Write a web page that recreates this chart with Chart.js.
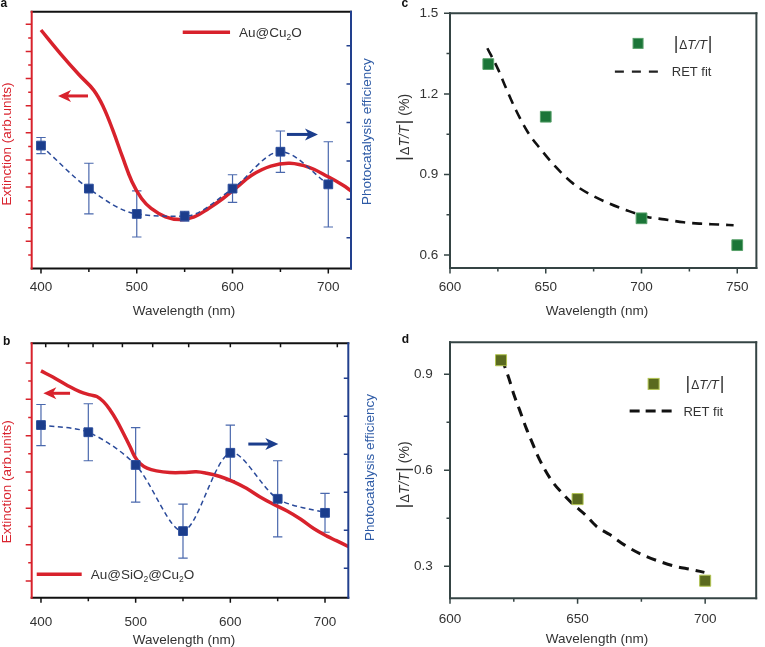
<!DOCTYPE html>
<html><head><meta charset="utf-8">
<script src="https://cdn.jsdelivr.net/npm/chart.js@4.4.1/dist/chart.umd.min.js"></script>
<style>
html,body{margin:0;padding:0;background:#fff;}
#wrap{position:relative;width:765px;height:647px;overflow:hidden;background:#fff;}
canvas{position:absolute;}
</style></head><body>
<div id="wrap">
<canvas id="ca" style="left:0;top:0;width:380px;height:325px" width="380" height="325"></canvas>
<canvas id="cc" style="left:380px;top:0;width:385px;height:325px" width="385" height="325"></canvas>
<canvas id="cb" style="left:0;top:325px;width:380px;height:322px" width="380" height="322"></canvas>
<canvas id="cd" style="left:380px;top:325px;width:385px;height:322px" width="385" height="322"></canvas>
</div>
<script>
// ---------------- data ----------------
const photoWavelengths = [400, 450, 500, 550, 600, 650, 700];

// panel a
const extWavelengthsA = [400,420,440,455,465,475,485,495,505,515,530,545,560,575,590,605,620,640,660,680,700,715,725];
const extinctionA     = [17.58,15.86,14.26,13.15,11.93,10.20,8.24,6.39,5.16,4.43,3.81,3.61,3.81,4.43,5.16,6.02,6.88,7.55,7.75,7.45,6.76,6.15,5.66];
const photoEffA = [3.40, 2.28, 1.62, 1.56, 2.28, 3.24, 2.39];
const photoErrA = [0.21, 0.66, 0.60, 0.13, 0.36, 0.54, 1.11];

// panel b
const extWavelengthsB = [400,413,427,441,452,459,466,473,480,487,494,499,505,512,522,536,550,564,575,589,603,617,631,645,660,674,688,702,712,725];
const extinctionB     = [12.56,12.21,11.79,11.42,11.24,11.15,10.87,10.41,9.83,9.13,8.40,7.85,7.45,7.21,7.06,6.97,6.97,7.01,6.93,6.75,6.47,6.10,5.64,5.24,4.85,4.41,3.89,3.47,3.22,2.89];
const photoEffB = [4.77, 4.58, 3.72, 1.98, 4.04, 2.83, 2.46];
const photoErrB = [0.54, 0.75, 0.98, 0.71, 0.73, 1.00, 0.51];

// panel c
const pointWlC = [620, 650, 700, 750];
const dTC      = [1.311, 1.115, 0.737, 0.637];
const fitWlC = [619.5,625.0,629.3,634.4,640.5,647.0,655.1,664.2,672.9,683.2,691.8,703.0,712.0,722.0,730.9,740.0,748.1];
const fitC   = [1.37,1.293,1.221,1.140,1.059,0.997,0.929,0.867,0.827,0.792,0.768,0.742,0.733,0.722,0.717,0.714,0.711];

// panel d
const pointWlD = [620, 650, 700];
const dTD      = [0.944, 0.510, 0.255];
const fitWlD = [620.3,623.1,625.1,627.3,629.9,632.1,634.4,636.9,640.1,644.6,648.5,653.0,657.4,662.6,668.3,675.4,681.8,688.2,694.6,699.7];
const fitD   = [0.949,0.887,0.835,0.788,0.731,0.689,0.645,0.606,0.565,0.523,0.492,0.461,0.425,0.399,0.367,0.336,0.316,0.300,0.290,0.281];

// ticks
const xTicksAB = [400, 500, 600, 700];
const xMinorAB = [450, 550, 650];
const topTicksB = [405, 429, 455, 486, 518, 556, 600, 653, 713];
const yLeftMajorA = [2,4,6,8,10,12,14,16,18];
const yLeftMinorA = [1,3,5,7,9,11,13,15,17];
const yLeftMajorB = [1,3,5,7,9,11,13];
const yLeftMinorB = [2,4,6,8,10,12];
const yRightTicks = [1,2,3,4,5,6];
const xTicksC = [600, 650, 700, 750];
const xMinorC = [625, 675, 725];
const yTicksC = [0.6, 0.9, 1.2, 1.5];
const yMinorC = [0.75, 1.05, 1.35];
const xTicksD = [600, 650, 700];
const xMinorD = [625, 675];
const yTicksD = [0.3, 0.6, 0.9];
const yMinorD = [0.45, 0.75];

// ---------------- style ----------------
const FONT = "'Liberation Sans', Arial, Helvetica, sans-serif";
Chart.defaults.font.family = FONT;
Chart.defaults.font.size = 13.5;
Chart.defaults.color = '#333';
Chart.defaults.animation = false;

const RED = '#d8222c', RED_TXT = '#d9232e';
const BLUE = '#1b3d8c', BLUE_LINE = '#2a4a9a', BLUE_TXT = '#2e5ba6', ERR = '#4a68ad';
const FRAME = '#354444';
const GREEN = '#1b7538', GREEN_EDGE = '#58a06a';
const OLIVE = '#5a6a1f', OLIVE_EDGE = '#b2c452';

const pts = (xs, ys) => xs.map((x, i) => ({x, y: ys[i]}));

function xScale(min, max, height, pad, majors) {
  return {type:'linear', position:'bottom', min, max,
    grid:{display:false, drawTicks:false}, border:{display:false},
    ticks:{display:true, padding:pad, maxRotation:0, autoSkip:false, color:'#333', font:{size:13.5}},
    afterBuildTicks: s => { s.ticks = majors.map(v => ({value:v})); },
    afterFit: s => { s.height = height; s.paddingLeft = 0; s.paddingRight = 0; s.paddingTop = 0; s.paddingBottom = 0; }};
}
function yScale(pos, min, max, width, majors, pad) {
  const o = {type:'linear', position:pos, min, max,
    grid:{display:false, drawTicks:false}, border:{display:false},
    ticks:{display:!!majors, padding:pad||0, color:'#333', font:{size:13.5}},
    afterFit: s => { s.width = width; s.paddingTop = 0; s.paddingBottom = 0; s.paddingLeft = 0; s.paddingRight = 0; }};
  if (majors) o.afterBuildTicks = s => { s.ticks = majors.map(v => ({value:v})); };
  return o;
}

// ---------------- drawing helpers ----------------
function frame(chart, sides) {
  const a = chart.chartArea, ctx = chart.ctx;
  sides.forEach(([side, color, w]) => {
    const h = w / 2;
    ctx.save(); ctx.strokeStyle = color; ctx.lineWidth = w; ctx.beginPath();
    if (side === 'top') { ctx.moveTo(a.left - h, a.top); ctx.lineTo(a.right + h, a.top); }
    if (side === 'bottom') { ctx.moveTo(a.left - h, a.bottom); ctx.lineTo(a.right + h, a.bottom); }
    if (side === 'left') { ctx.moveTo(a.left, a.top - h); ctx.lineTo(a.left, a.bottom + h); }
    if (side === 'right') { ctx.moveTo(a.right, a.top - h); ctx.lineTo(a.right, a.bottom + h); }
    ctx.stroke(); ctx.restore();
  });
}
function tickMarks(chart, axisId, side, vals, len, dir, color, w) {
  const s = chart.scales[axisId], a = chart.chartArea, ctx = chart.ctx;
  const sg = dir === 'out' ? 1 : -1;
  ctx.save(); ctx.strokeStyle = color; ctx.lineWidth = w; ctx.beginPath();
  vals.forEach(v => {
    const p = s.getPixelForValue(v);
    if (side === 'bottom') { ctx.moveTo(p, a.bottom); ctx.lineTo(p, a.bottom + sg * len); }
    else if (side === 'top') { ctx.moveTo(p, a.top); ctx.lineTo(p, a.top - sg * len); }
    else if (side === 'left') { ctx.moveTo(a.left, p); ctx.lineTo(a.left - sg * len, p); }
    else { ctx.moveTo(a.right, p); ctx.lineTo(a.right + sg * len, p); }
  });
  ctx.stroke(); ctx.restore();
}
function errorBars(chart, xs, ys, errs, yId) {
  const ctx = chart.ctx, sx = chart.scales.x, sy = chart.scales[yId];
  ctx.save(); ctx.strokeStyle = ERR; ctx.lineWidth = 1.2; ctx.beginPath();
  xs.forEach((x, i) => {
    const p = sx.getPixelForValue(x);
    const y1 = sy.getPixelForValue(ys[i] - errs[i]), y2 = sy.getPixelForValue(ys[i] + errs[i]);
    ctx.moveTo(p, y1); ctx.lineTo(p, y2);
    ctx.moveTo(p - 4.7, y1); ctx.lineTo(p + 4.7, y1);
    ctx.moveTo(p - 4.7, y2); ctx.lineTo(p + 4.7, y2);
  });
  ctx.stroke(); ctx.restore();
}
function arrow(chart, yId, xTail, xTip, yv, color) {
  const ctx = chart.ctx, sx = chart.scales.x, sy = chart.scales[yId];
  const x0 = sx.getPixelForValue(xTail), x1 = sx.getPixelForValue(xTip), y = sy.getPixelForValue(yv);
  const d = Math.sign(x1 - x0), hl = 13, hh = 6;
  ctx.save(); ctx.strokeStyle = color; ctx.fillStyle = color; ctx.lineWidth = 3;
  ctx.beginPath(); ctx.moveTo(x0, y); ctx.lineTo(x1 - d * hl * 0.6, y); ctx.stroke();
  ctx.beginPath(); ctx.moveTo(x1, y); ctx.lineTo(x1 - d * hl, y - hh); ctx.lineTo(x1 - d * hl * 0.72, y);
  ctx.lineTo(x1 - d * hl, y + hh); ctx.closePath(); ctx.fill();
  ctx.restore();
}
function fontOf(s) { return (s.italic ? 'italic ' : '') + (s.bold ? 'bold ' : '') + s.size + 'px ' + FONT; }
function rich(ctx, segs, x, y, opt) {
  opt = opt || {};
  ctx.save(); ctx.translate(x, y); if (opt.rot) ctx.rotate(opt.rot);
  ctx.textBaseline = 'alphabetic'; ctx.textAlign = 'left';
  let w = 0;
  segs.forEach(s => { ctx.font = fontOf(s); s.w = ctx.measureText(s.t).width + (s.gap || 0); w += s.w; });
  let cx = opt.align === 'center' ? -w / 2 : 0;
  segs.forEach(s => { ctx.font = fontOf(s); ctx.fillStyle = s.color || opt.color || '#333'; ctx.fillText(s.t, cx, s.dy || 0); cx += s.w; });
  ctx.restore();
}
const S = (t, size, o) => Object.assign({t, size}, o || {});
const absDT = (sz, bar) => [S('|', bar, {gap:1}), S('Δ', sz - 1), S('T/T', sz, {italic:true, gap:1}), S('|', bar)];
const ROT = -Math.PI / 2;

// legend helpers (positioned through the scales)
function legendLine(chart, yId, x0, x1, yv, color, w, dash) {
  const ctx = chart.ctx, sx = chart.scales.x, sy = chart.scales[yId];
  ctx.save(); ctx.strokeStyle = color; ctx.lineWidth = w; ctx.setLineDash(dash || []);
  ctx.beginPath(); const y = sy.getPixelForValue(yv);
  ctx.moveTo(sx.getPixelForValue(x0), y); ctx.lineTo(sx.getPixelForValue(x1), y); ctx.stroke(); ctx.restore();
}
function legendSquare(chart, xv, yv, side, fill, edge) {
  const ctx = chart.ctx, x = chart.scales.x.getPixelForValue(xv), y = chart.scales.y.getPixelForValue(yv);
  ctx.save(); ctx.fillStyle = fill; ctx.strokeStyle = edge; ctx.lineWidth = 1;
  ctx.fillRect(x - side / 2, y - side / 2, side, side); ctx.strokeRect(x - side / 2, y - side / 2, side, side); ctx.restore();
}
function legendText(chart, yId, xv, yv, segs, color) {
  const x = chart.scales.x.getPixelForValue(xv), y = chart.scales[yId].getPixelForValue(yv);
  rich(chart.ctx, segs, x, y + 4.6, {color});
}

const baseOpts = (top, right) => ({responsive:false, animation:false, devicePixelRatio:1,
  layout:{padding:{top, left:0, right:right || 0, bottom:0}},
  plugins:{legend:{display:false}, tooltip:{enabled:false}}});

// ---------------- panel a ----------------
new Chart(document.getElementById('ca'), {
  type:'line',
  data:{datasets:[
    {label:'Photocatalysis efficiency', data:pts(photoWavelengths, photoEffA), yAxisID:'yR',
     borderColor:BLUE_LINE, borderWidth:1.5, borderDash:[5,3.5], cubicInterpolationMode:'monotone',
     pointStyle:'rect', pointRadius:6.2, pointBackgroundColor:BLUE, pointBorderColor:'#2b4d9c', pointBorderWidth:1},
    {label:'Au@Cu₂O', data:pts(extWavelengthsA, extinctionA), yAxisID:'yL',
     borderColor:RED, borderWidth:3.5, pointRadius:0, tension:0.4}
  ]},
  options:Object.assign(baseOpts(11.7), {scales:{
    x: xScale(390.3, 723.7, 56.5, 10.5, xTicksAB),
    yL: yScale('left', 0, 18.93, 31.7),
    yR: yScale('right', 0.2, 6.885, 29)
  }}),
  plugins:[{id:'decoA',
    beforeDatasetsDraw(c){ errorBars(c, photoWavelengths, photoEffA, photoErrA, 'yR'); },
    afterDatasetsDraw(c){
      frame(c, [['top','#111',2],['bottom','#111',2],['left',RED,2],['right','#22408e',2]]);
      tickMarks(c,'x','bottom',xTicksAB,5,'out','#111',1.5);
      tickMarks(c,'x','bottom',xMinorAB,3.5,'out','#111',1.5);
      tickMarks(c,'yL','left',yLeftMajorA,6,'out',RED,1.5);
      tickMarks(c,'yL','left',yLeftMinorA,3.5,'out',RED,1.5);
      tickMarks(c,'yR','right',yRightTicks,4.5,'in','#22408e',1.5);
    },
    afterDraw(c){
      const ctx = c.ctx;
      arrow(c,'yL',449.1,417.8,12.72,RED);
      arrow(c,'yR',656.8,689.2,3.69,BLUE);
      legendLine(c,'yL',548.0,597.4,17.41,RED,3.5);
      legendText(c,'yL',606.7,17.41,[S('Au@Cu',13.5),S('2',8.5,{dy:3}),S('O',13.5)],'#333');
      rich(ctx,[S('a',12,{bold:true})],0.5,6.8,{color:'#111'});
      rich(ctx,[S('Extinction (arb.units)',13.5)],10.8,144,{rot:ROT,align:'center',color:RED_TXT});
      rich(ctx,[S('Photocatalysis efficiency',13.5)],371.1,131.7,{rot:ROT,align:'center',color:BLUE_TXT});
      rich(ctx,[S('Wavelength (nm)',13.5)],184,315.3,{align:'center',color:'#333'});
    }}]
});

// ---------------- panel b ----------------
new Chart(document.getElementById('cb'), {
  type:'line',
  data:{datasets:[
    {label:'Photocatalysis efficiency', data:pts(photoWavelengths, photoEffB), yAxisID:'yR',
     borderColor:BLUE_LINE, borderWidth:1.5, borderDash:[5,3.5], tension:0.3,
     pointStyle:'rect', pointRadius:6.2, pointBackgroundColor:BLUE, pointBorderColor:'#2b4d9c', pointBorderWidth:1},
    {label:'Au@SiO₂@Cu₂O', data:pts(extWavelengthsB, extinctionB), yAxisID:'yL',
     borderColor:RED, borderWidth:3.5, pointRadius:0, tension:0.4}
  ]},
  options:Object.assign(baseOpts(18.3), {scales:{
    x: xScale(390.2, 724.6, 49.3, 16, xTicksAB),
    yL: yScale('left', 0.083, 14.08, 31.7),
    yR: yScale('right', 0.228, 6.92, 31.7)
  }}),
  plugins:[{id:'decoB',
    beforeDatasetsDraw(c){ errorBars(c, photoWavelengths, photoEffB, photoErrB, 'yR'); },
    afterDatasetsDraw(c){
      frame(c, [['top','#111',2],['bottom','#111',2],['left',RED,2],['right','#22408e',2]]);
      tickMarks(c,'x','bottom',xTicksAB,5,'out','#111',1.5);
      tickMarks(c,'x','bottom',xMinorAB,3.5,'out','#111',1.5);
      tickMarks(c,'x','top',topTicksB,4,'in','#111',1.5);
      tickMarks(c,'yL','left',yLeftMajorB,6,'out',RED,1.5);
      tickMarks(c,'yL','left',yLeftMinorB,3.5,'out',RED,1.5);
      tickMarks(c,'yR','right',yRightTicks,4.5,'in','#22408e',1.5);
    },
    afterDraw(c){
      const ctx = c.ctx;
      arrow(c,'yL',430.7,402.5,11.33,RED);
      arrow(c,'yR',619.0,650.7,4.27,BLUE);
      legendLine(c,'yL',395.5,443.0,1.37,RED,3.5);
      legendText(c,'yL',452.5,1.37,[S('Au@SiO',13.5),S('2',8.5,{dy:3}),S('@Cu',13.5),S('2',8.5,{dy:3}),S('O',13.5)],'#333');
      rich(ctx,[S('b',12,{bold:true})],3,20,{color:'#111'});
      rich(ctx,[S('Extinction (arb.units)',13.5)],11.1,156.7,{rot:ROT,align:'center',color:RED_TXT});
      rich(ctx,[S('Photocatalysis efficiency',13.5)],373.6,142.5,{rot:ROT,align:'center',color:BLUE_TXT});
      rich(ctx,[S('Wavelength (nm)',13.5)],184,318.6,{align:'center',color:'#333'});
    }}]
});

// ---------------- panel c ----------------
new Chart(document.getElementById('cc'), {
  type:'line',
  data:{datasets:[
    {label:'|ΔT/T|', data:pts(pointWlC, dTC), showLine:false,
     pointStyle:'rect', pointRadius:7.6, pointBackgroundColor:GREEN, pointBorderColor:GREEN_EDGE, pointBorderWidth:1},
    {label:'RET fit', data:pts(fitWlC, fitC), borderColor:'#111', borderWidth:2.6, borderDash:[10,7],
     pointRadius:0, cubicInterpolationMode:'monotone'}
  ]},
  options:Object.assign(baseOpts(13.3, 5), {scales:{
    x: xScale(600, 760, 57, 11, xTicksC),
    y: yScale('left', 0.552, 1.5, 70, yTicksC, 11.7)
  }}),
  plugins:[{id:'decoC',
    afterDatasetsDraw(c){
      frame(c, [['top',FRAME,2],['bottom',FRAME,2],['left',FRAME,2],['right',FRAME,2]]);
      tickMarks(c,'x','bottom',xTicksC,5.5,'out',FRAME,1.5);
      tickMarks(c,'x','bottom',xMinorC,3.5,'out',FRAME,1.5);
      tickMarks(c,'y','left',yTicksC,6,'out',FRAME,1.5);
      tickMarks(c,'y','left',yMinorC,3.5,'out',FRAME,1.5);
    },
    afterDraw(c){
      const ctx = c.ctx;
      legendSquare(c, 698.2, 1.388, 10, GREEN, GREEN_EDGE);
      legendText(c,'y',716.8,1.386,absDT(13,18),'#333');
      legendLine(c,'y',686.1,709.4,1.283,'#222',2.2,[9,8]);
      legendText(c,'y',715.8,1.283,[S('RET fit',13)],'#333');
      rich(ctx,[S('c',12,{bold:true})],21.5,6.8,{color:'#111'});
      rich(ctx,absDT(14,19).concat([S(' (%)',14)]),28.6,127.5,{rot:ROT,align:'center',color:'#333'});
      rich(ctx,[S('Wavelength (nm)',13.5)],217,315.3,{align:'center',color:'#333'});
    }}]
});

// ---------------- panel d ----------------
new Chart(document.getElementById('cd'), {
  type:'line',
  data:{datasets:[
    {label:'|ΔT/T|', data:pts(pointWlD, dTD), showLine:false,
     pointStyle:'rect', pointRadius:7.8, pointBackgroundColor:OLIVE, pointBorderColor:OLIVE_EDGE, pointBorderWidth:1},
    {label:'RET fit', data:pts(fitWlD, fitD), borderColor:'#111', borderWidth:3, borderDash:[10,7],
     pointRadius:0, cubicInterpolationMode:'monotone'}
  ]},
  options:Object.assign(baseOpts(17.3, 3), {scales:{
    x: xScale(600, 720, 48.7, 13, xTicksD),
    y: yScale('left', 0.2, 1.0, 70, yTicksD, 17.3)
  }}),
  plugins:[{id:'decoD',
    afterDatasetsDraw(c){
      frame(c, [['top',FRAME,2],['bottom',FRAME,2],['left',FRAME,2],['right',FRAME,2]]);
      tickMarks(c,'x','bottom',xTicksD,5.5,'out',FRAME,1.5);
      tickMarks(c,'x','bottom',xMinorD,3.5,'out',FRAME,1.5);
      tickMarks(c,'y','left',yTicksD,6,'out',FRAME,1.5);
      tickMarks(c,'y','left',yMinorD,3.5,'out',FRAME,1.5);
    },
    afterDraw(c){
      const ctx = c.ctx;
      legendSquare(c, 679.8, 0.870, 11, OLIVE, OLIVE_EDGE);
      legendText(c,'y',692.3,0.867,absDT(13,18),'#333');
      legendLine(c,'y',670.4,688.1,0.785,'#111',3,[10,6]);
      legendText(c,'y',691.5,0.785,[S('RET fit',13)],'#333');
      rich(ctx,[S('d',12,{bold:true})],21.7,18,{color:'#111'});
      rich(ctx,absDT(14,19).concat([S(' (%)',14)]),28.6,150,{rot:ROT,align:'center',color:'#333'});
      rich(ctx,[S('Wavelength (nm)',13.5)],217,317.6,{align:'center',color:'#333'});
    }}]
});
</script>
</body></html>
